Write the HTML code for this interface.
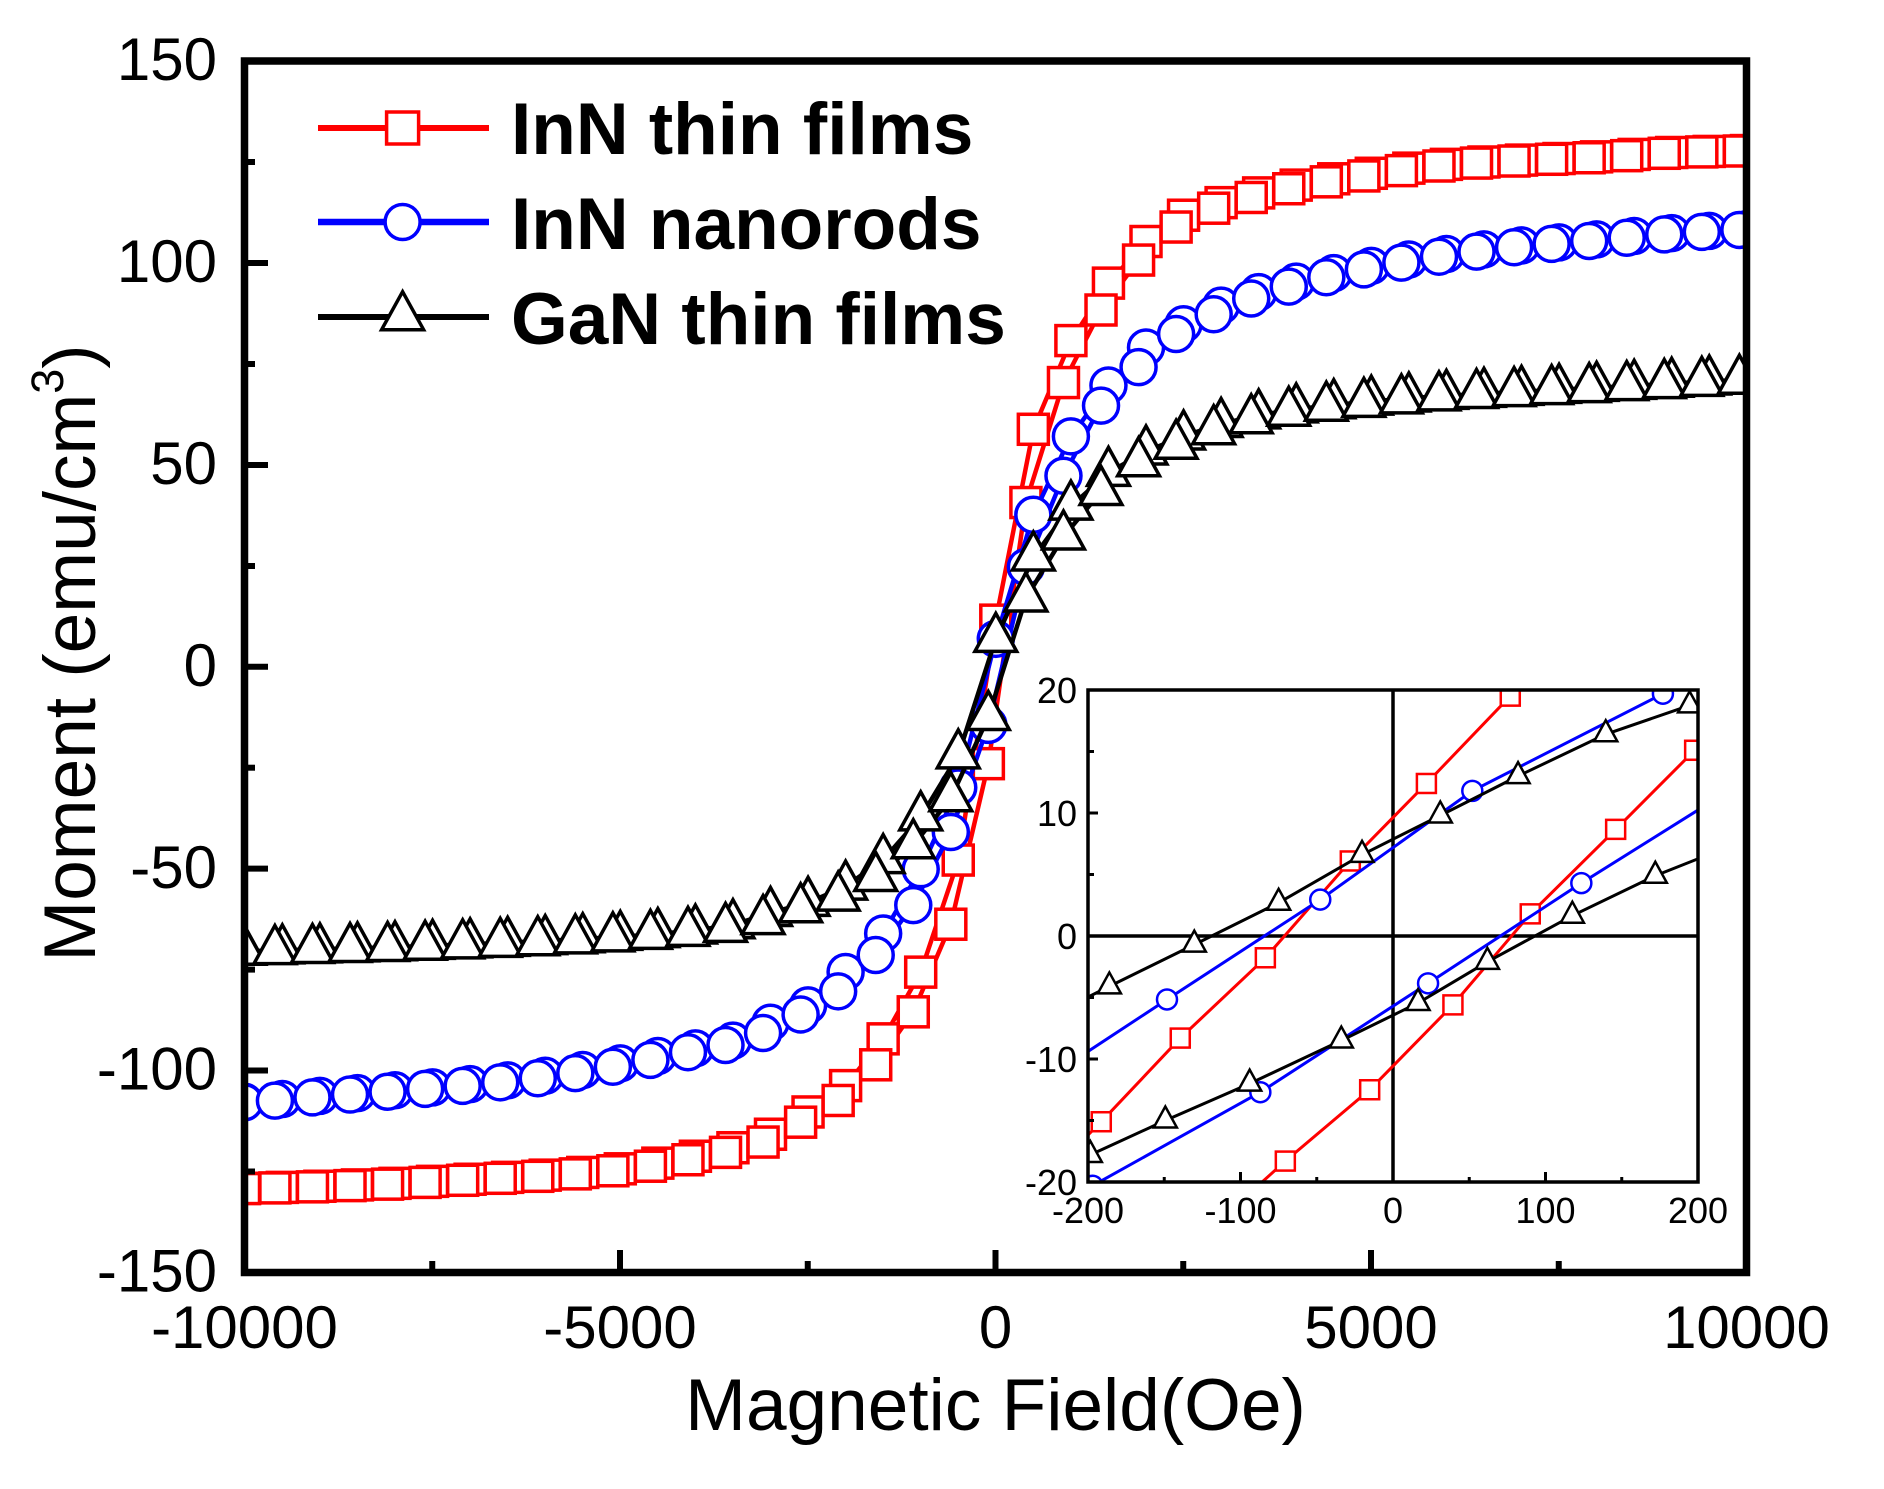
<!DOCTYPE html>
<html><head><meta charset="utf-8">
<style>
html,body{margin:0;padding:0;background:#fff;}
svg{display:block;}
text{font-family:"Liberation Sans",Arial,sans-serif;fill:#000;}
</style></head>
<body>
<svg id="s" width="1884" height="1489" viewBox="0 0 1884 1489" xmlns="http://www.w3.org/2000/svg">
<defs>
<clipPath id="cm"><rect x="244.5" y="61" width="1502" height="1211.5"/></clipPath>
<clipPath id="ci"><rect x="1088" y="690" width="610" height="492"/></clipPath>
</defs>
<rect width="1884" height="1489" fill="#fff"/>
<g id="main" clip-path="url(#cm)"></g>

<!-- inset -->
<rect x="1088" y="690" width="610" height="492" fill="#fff"/>
<line x1="1088" y1="936" x2="1698" y2="936" stroke="#000" stroke-width="3.5"/>
<line x1="1393" y1="690" x2="1393" y2="1182" stroke="#000" stroke-width="3.5"/>
<g id="inset" clip-path="url(#ci)"></g>
<rect x="1088" y="690" width="610" height="492" fill="none" stroke="#000" stroke-width="3.5"/>
<g stroke="#000" stroke-width="3">
<line x1="1240.5" y1="1182" x2="1240.5" y2="1172"/>
<line x1="1545.5" y1="1182" x2="1545.5" y2="1172"/>
<line x1="1164.25" y1="1182" x2="1164.25" y2="1177"/>
<line x1="1316.75" y1="1182" x2="1316.75" y2="1177"/>
<line x1="1469.25" y1="1182" x2="1469.25" y2="1177"/>
<line x1="1621.75" y1="1182" x2="1621.75" y2="1177"/>
<line x1="1088" y1="813" x2="1098" y2="813"/>
<line x1="1088" y1="1059" x2="1098" y2="1059"/>
<line x1="1088" y1="751.5" x2="1094" y2="751.5"/>
<line x1="1088" y1="874.5" x2="1094" y2="874.5"/>
<line x1="1088" y1="997.5" x2="1094" y2="997.5"/>
<line x1="1088" y1="1120.5" x2="1094" y2="1120.5"/>
</g>
<g font-size="36" text-anchor="end">
<text x="1077" y="703">20</text>
<text x="1077" y="826">10</text>
<text x="1077" y="949">0</text>
<text x="1077" y="1072">-10</text>
<text x="1077" y="1195">-20</text>
</g>
<g font-size="36" text-anchor="middle">
<text x="1088" y="1223">-200</text>
<text x="1240.5" y="1223">-100</text>
<text x="1393" y="1223">0</text>
<text x="1545.5" y="1223">100</text>
<text x="1698" y="1223">200</text>
</g>

<!-- main frame -->
<rect x="244.5" y="61" width="1502" height="1211.5" fill="none" stroke="#000" stroke-width="7.5"/>
<g stroke="#000" stroke-width="6">
<line x1="620" y1="1272" x2="620" y2="1250"/>
<line x1="995.5" y1="1272" x2="995.5" y2="1250"/>
<line x1="1371" y1="1272" x2="1371" y2="1250"/>
<line x1="432.25" y1="1272" x2="432.25" y2="1261"/>
<line x1="807.75" y1="1272" x2="807.75" y2="1261"/>
<line x1="1183.25" y1="1272" x2="1183.25" y2="1261"/>
<line x1="1558.75" y1="1272" x2="1558.75" y2="1261"/>
<line x1="245" y1="263" x2="268" y2="263"/>
<line x1="245" y1="465" x2="268" y2="465"/>
<line x1="245" y1="666.75" x2="268" y2="666.75"/>
<line x1="245" y1="868.6" x2="268" y2="868.6"/>
<line x1="245" y1="1070.5" x2="268" y2="1070.5"/>
<line x1="245" y1="162" x2="255" y2="162"/>
<line x1="245" y1="364" x2="255" y2="364"/>
<line x1="245" y1="566" x2="255" y2="566"/>
<line x1="245" y1="767.7" x2="255" y2="767.7"/>
<line x1="245" y1="969.6" x2="255" y2="969.6"/>
<line x1="245" y1="1171.5" x2="255" y2="1171.5"/>
</g>
<g font-size="60" text-anchor="end">
<text x="217" y="80">150</text>
<text x="217" y="282">100</text>
<text x="217" y="484">50</text>
<text x="217" y="686">0</text>
<text x="217" y="888">-50</text>
<text x="217" y="1089.5">-100</text>
<text x="217" y="1291.5">-150</text>
</g>
<g font-size="60" text-anchor="middle">
<text x="244.5" y="1348">-10000</text>
<text x="620" y="1348">-5000</text>
<text x="995.5" y="1348">0</text>
<text x="1371" y="1348">5000</text>
<text x="1746.5" y="1348">10000</text>
</g>
<text x="995.5" y="1430" font-size="73" text-anchor="middle">Magnetic Field(Oe)</text>
<text transform="translate(95,653) rotate(-90)" font-size="73" text-anchor="middle">Moment (emu/cm<tspan font-size="45" dy="-32">3</tspan><tspan dy="32">)</tspan></text>

<!-- legend -->
<line x1="318" y1="128" x2="489" y2="128" stroke="#ff0000" stroke-width="6"/>
<rect x="386.6" y="112" width="32" height="32" fill="#fff" stroke="#ff0000" stroke-width="3.5"/>
<line x1="318" y1="222" x2="489" y2="222" stroke="#0000ff" stroke-width="6.5"/>
<circle cx="402.6" cy="222" r="17.5" fill="#fff" stroke="#0000ff" stroke-width="3.5"/>
<line x1="318" y1="317" x2="489" y2="317" stroke="#000" stroke-width="6"/>
<polygon points="402.6,291.7 423.6,329.7 381.6,329.7" fill="#fff" stroke="#000" stroke-width="3.5"/>
<g font-size="73" font-weight="bold">
<text x="511" y="154">InN thin films</text>
<text x="511" y="249">InN nanorods</text>
<text x="511" y="344">GaN thin films</text>
</g>
</svg>
<script>
(function(){
const NS="http://www.w3.org/2000/svg";
function el(t,a,p){const e=document.createElementNS(NS,t);for(const k in a)e.setAttribute(k,a[k]);p.appendChild(e);return e;}
function pchip(pts){
  const n=pts.length, xs=pts.map(p=>p[0]), ys=pts.map(p=>p[1]);
  const h=[],d=[];
  for(let i=0;i<n-1;i++){h[i]=xs[i+1]-xs[i]; d[i]=(ys[i+1]-ys[i])/h[i];}
  const m=new Array(n);
  m[0]=d[0]; m[n-1]=d[n-2];
  for(let i=1;i<n-1;i++){
    if(d[i-1]*d[i]<=0) m[i]=0;
    else {const w1=2*h[i]+h[i-1], w2=h[i]+2*h[i-1]; m[i]=(w1+w2)/(w1/d[i-1]+w2/d[i]);}
  }
  return function(x){
    if(x>=xs[n-1]) return ys[n-1];
    let i=0; while(i<n-2 && x>xs[i+1]) i++;
    const t=(x-xs[i])/h[i], t2=t*t, t3=t2*t;
    return (2*t3-3*t2+1)*ys[i]+(t3-2*t2+t)*h[i]*m[i]+(-2*t3+3*t2)*ys[i+1]+(t3-t2)*h[i]*m[i+1];
  };
}
function mk(pos,neg){const fp=pchip(pos),fn=pchip(neg);return h=>h>=0?fp(h):-fn(-h);}
function marker(g,type,x,y,sz,col,sw){
  if(type==='s') el('rect',{x:x-sz/2,y:y-sz/2,width:sz,height:sz,fill:'#fff',stroke:col,'stroke-width':sw},g);
  else if(type==='c') el('circle',{cx:x,cy:y,r:sz/2,fill:'#fff',stroke:col,'stroke-width':sw},g);
  else {const hh=sz, w=sz*1.1;
    el('polygon',{points:`${x},${y-2*hh/3} ${x+w/2},${y+hh/3} ${x-w/2},${y+hh/3}`,fill:'#fff',stroke:col,'stroke-width':sw},g);}
}
const redPos=[[0,0],[170,24],[300,38],[450,50],[600,60],[800,69],[1000,78],[1250,86],[1500,93],[1750,99],[2000,104],[2300,108.5],[2600,112],[3000,114.5],[3500,117],[4000,119],[5000,122],[6000,124.3],[7000,125.4],[8000,126.2],[9000,127.3],[10000,127.8],[11000,128.2]];
const redNeg=[[0,0],[170,24],[300,38],[450,50],[600,60],[800,70],[1000,79],[1250,88],[1500,94],[1750,100.5],[2000,105],[2300,109],[2600,112],[3000,116.5],[3500,119.5],[4000,121.5],[5000,124.5],[6000,126],[7000,127],[8000,128],[9000,128.7],[10000,129.2],[11000,129.5]];
const bluePos=[[0,0],[100,8.5],[200,16.5],[350,26],[500,34],[700,42.5],[860,48.5],[1000,54],[1150,59.5],[1300,64],[1600,70],[1900,75.5],[2200,81],[2500,84],[2850,87.5],[3300,91],[4000,95],[5000,99],[6000,102],[7000,104.2],[8000,105.7],[9000,107.3],[10000,108.3],[11000,108.8]];
const blueNeg=[[0,0],[100,8.5],[200,16.5],[350,26],[500,34],[700,42],[1000,53],[1300,63],[1600,70],[2000,77],[2300,82.5],[2900,88],[3400,92.5],[4000,94.8],[5000,98.5],[6000,101.5],[7000,103.5],[8000,105],[9000,106.4],[10000,107.8],[11000,108.3]];
const blackPos=[[0,0],[150,9.3],[300,17],[500,24],[700,29.5],[900,35],[1100,39.5],[1400,45],[1900,51.5],[2400,55.5],[2900,59],[3400,61.5],[4000,63.5],[5000,65.5],[6000,67],[7000,68],[8000,69],[9000,70],[10000,71],[11000,71.3]];
const blackNeg=[[0,0],[150,9.3],[300,18],[500,26],[700,32.5],[900,37.5],[1100,42],[1400,48],[1900,54.5],[2400,58.5],[2900,61],[3400,64],[4000,65.5],[5000,67],[6000,68],[7000,68.8],[8000,69.5],[9000,70],[10000,70.5],[11000,70.8]];
const X=h=>995.5+h*0.0751, Y=m=>666.75-m*4.038;
const series=[
 {c:'#ff0000',t:'s',d:75,G:mk(redPos,redNeg),sz:30},
 {c:'#0000ff',t:'c',d:77,G:mk(bluePos,blueNeg),sz:35},
 {c:'#000000',t:'t',d:106,G:mk(blackPos,blackNeg),sz:38}];
const A=[10000]; for(let k=1;k<=39;k++)A.push(10004-500*k); A.push(-10000);
const B=[-10000]; for(let k=0;k<40;k++)B.push(-9595+500*k);
const gm=document.getElementById('main');
series.forEach(s=>{
  const pa=A.map(h=>[X(h),Y(s.G(h+s.d))]);
  const pb=B.map(h=>[X(h),Y(s.G(h-s.d))]);
  [pa,pb].forEach(p=>el('polyline',{points:p.map(q=>q[0].toFixed(1)+','+q[1].toFixed(1)).join(' '),fill:'none',stroke:s.c,'stroke-width':4.5,'stroke-linejoin':'round'},gm));
  pa.concat(pb).forEach(q=>marker(gm,s.t,q[0],q[1],s.sz,s.c,3.5));
});
// inset
const IX=h=>1393+h*1.525, IY=m=>936-m*12.3;
const gi=document.getElementById('inset');
const ins=[
 {c:'#ff0000',t:'s',sz:19,lines:[
   [[-246,-21.9],[-191.3,-15.1],[-139.5,-8.3],[-83.7,-1.77],[-28,6.1],[21.9,12.4],[76.9,19.5],[132,26.5]],
   [[-126,-24.5],[-70.6,-18.3],[-15.3,-12.5],[39.3,-5.6],[90,1.8],[146,8.67],[197.8,15.1],[250,21.5]]]},
 {c:'#0000ff',t:'c',sz:20,lines:[
   [[-248,-13.3],[-148.2,-5.16],[-47.7,2.96],[52,11.8],[177,19.7],[277,27.5]],
   [[-300,-29],[-197,-20.3],[-87,-12.7],[23,-3.85],[123.5,4.3],[233,12.8]]]},
 {c:'#000000',t:'t',sz:21,lines:[
   [[-241,-7.5],[-186,-4.1],[-130.3,-0.7],[-75,2.7],[-20.3,6.6],[31,9.8],[82,13.0],[139.5,16.4],[194.5,18.75],[250,21]],
   [[-254,-20.5],[-198.5,-17.8],[-149.3,-15],[-94,-12],[-33.9,-8.5],[16.4,-5.45],[61.9,-2.1],[117.6,1.65],[172,4.9],[227,7.6]]]}
];
ins.forEach(s=>{
  s.lines.forEach(L=>el('polyline',{points:L.map(q=>IX(q[0]).toFixed(1)+','+IY(q[1]).toFixed(1)).join(' '),fill:'none',stroke:s.c,'stroke-width':3},gi));
  s.lines.forEach(L=>L.forEach(q=>marker(gi,s.t,IX(q[0]),IY(q[1]),s.sz,s.c,2.5)));
});
})();
</script>
</body></html>
